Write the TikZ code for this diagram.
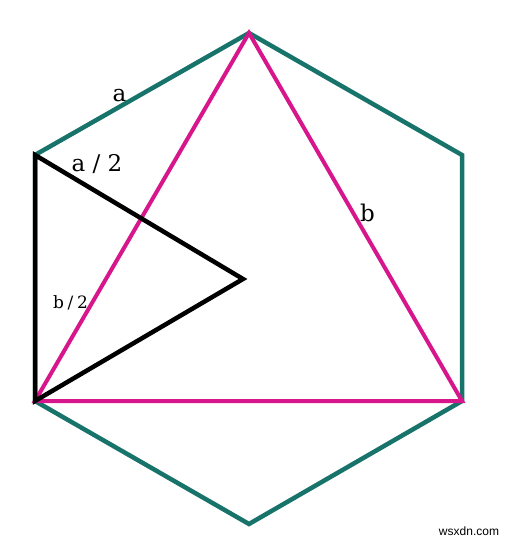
\documentclass[tikz,border=0pt]{standalone}
\usepackage{fontspec}
\setmainfont{DejaVu Serif}
\setsansfont{Liberation Sans}
\definecolor{hexteal}{RGB}{24,116,106}
\definecolor{trimag}{RGB}{216,22,140}
\tikzset{
  hexline/.style={draw=hexteal,line width=4.5pt,line join=miter},
  triline/.style={draw=trimag,line width=4pt,line join=miter},
  blkline/.style={draw=black,line width=4.5pt,line join=miter},
  lbl/.style={font=\fontsize{23}{25}\selectfont,inner sep=0pt},
  lbls/.style={font=\fontsize{17}{19}\selectfont,inner sep=0pt},
}
\begin{document}
\begin{tikzpicture}[x=1pt,y=-1pt]
\useasboundingbox (0,0) rectangle (513,543);
\coordinate (T) at (249,33);
\coordinate (UR) at (462,155);
\coordinate (LR) at (462,401);
\coordinate (B) at (249,524);
\coordinate (LL) at (35,401);
\coordinate (UL) at (35,155);
\coordinate (C) at (243,279);
\draw[hexline] (T) -- (UR) -- (LR) -- (B) -- (LL) -- (UL) -- cycle;
\draw[triline] (T) -- (LR) -- (LL) -- cycle;
\draw[blkline] (LL) -- (UL) -- (C) -- cycle;
\node[lbl,anchor=base] (la) at (119.5,101.5) {a};
\node[lbl,anchor=base] (lha) at (97,171.5) {a / 2};
\node[lbl,anchor=base] (lb) at (367.5,221.5) {b};
\node[lbls,anchor=base] (lhb) at (70.5,308.5) {b\hspace{0.22em}/\hspace{0.22em}2};
\node[font=\sffamily\fontsize{12}{14}\selectfont,inner sep=0pt] (wm) at (469,531) {wsxdn.com};
\end{tikzpicture}
\end{document}
